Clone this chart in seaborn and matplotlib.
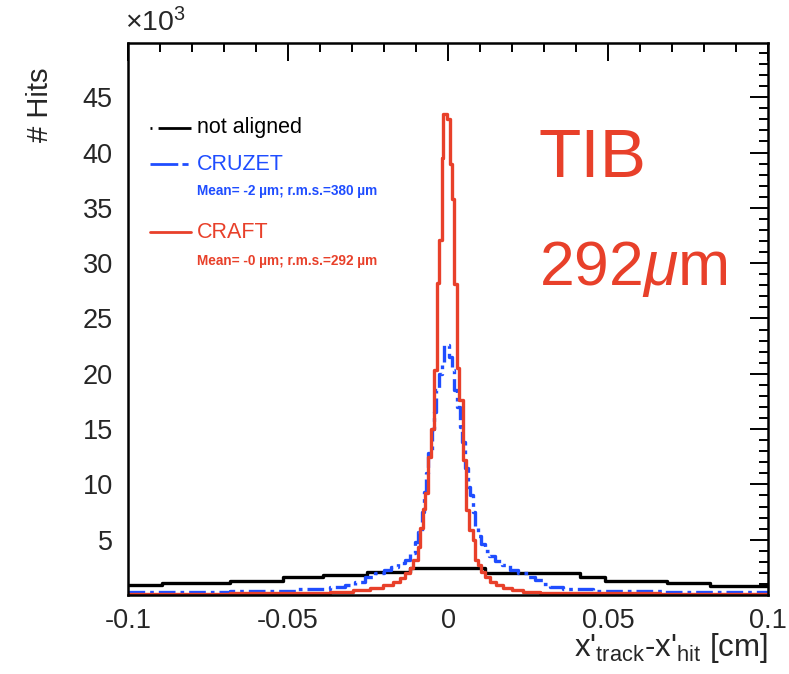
import numpy as np
import pandas as pd
import matplotlib
matplotlib.use("Agg")
import matplotlib.pyplot as plt
from matplotlib.lines import Line2D
from matplotlib.ticker import MultipleLocator, FixedLocator
import seaborn as sns

# ---- residual histograms (counts in units of 10^3 hits) ----
# bin edges in cm, contents per bin
not_aligned_edges = [-0.1, -0.0894, -0.0797, -0.0681, -0.0516, -0.0391, -0.0253,
                     -0.0119, 0.0116, 0.0413, 0.0491, 0.0684, 0.0819, 0.1]
not_aligned_hits = [0.9, 1.1, 1.05, 1.3, 1.6, 1.85, 2.1, 2.4, 1.95, 1.6, 1.26, 1.05, 0.85]

cruzet_edges = [-0.1, -0.0681, -0.0472, -0.0369, -0.0322, -0.0291, -0.0259, -0.0228,
                -0.0200, -0.0178, -0.0156, -0.0134, -0.0119, -0.0103, -0.0093, -0.0082,
                -0.0075, -0.0069, -0.0062, -0.0051, -0.0044, -0.0036, -0.0027, -0.0020,
                -0.0012, 0.0004, 0.0013, 0.0020, 0.0028, 0.0038, 0.0045, 0.0053,
                0.0061, 0.0069, 0.0078, 0.0084, 0.0094, 0.0103, 0.0116, 0.0128,
                0.0147, 0.0169, 0.0194, 0.0219, 0.0250, 0.0272, 0.0297, 0.0319,
                0.0359, 0.0453, 0.0672, 0.1]
cruzet_hits = [0.3, 0.4, 0.55, 0.7, 0.9, 1.2, 1.6, 2.0, 2.3, 2.5, 2.9, 3.2, 3.8, 4.8,
               5.7, 7.5, 9.3, 11.0, 12.8, 15.0, 16.5, 18.5, 20.0, 21.0, 22.6, 21.5,
               20.3, 18.5, 17.0, 15.2, 13.8, 11.5, 9.8, 9.0, 7.5, 6.2, 5.3, 4.6, 4.0,
               3.5, 3.1, 2.7, 2.3, 2.0, 1.6, 1.35, 1.0, 0.75, 0.55, 0.4, 0.3]

craft_edges = [-0.1, -0.0681, -0.0369, -0.0297, -0.0244, -0.0203, -0.0172, -0.0150,
               -0.0134, -0.0119, -0.0108, -0.0095, -0.0088, -0.0079, -0.0072, -0.0063,
               -0.0053, -0.0044, -0.0035, -0.0028, -0.0020, -0.0015, -0.0004, 0.0006,
               0.0012, 0.0019, 0.0027, 0.0035, 0.0046, 0.0055, 0.0067, 0.0077,
               0.0084, 0.0093, 0.0102, 0.0116, 0.0131, 0.0150, 0.0172, 0.0200,
               0.0234, 0.0288, 0.0350, 0.0663, 0.1]
craft_hits = [0.12, 0.18, 0.3, 0.45, 0.6, 0.9, 1.2, 1.5, 2.0, 2.4, 3.2, 4.3, 6.1, 7.8,
              9.2, 12.5, 15.0, 20.3, 28.2, 32.1, 39.5, 43.5, 43.0, 39.0, 35.8, 28.1,
              20.5, 17.6, 12.2, 7.7, 5.9, 5.0, 3.2, 2.7, 2.1, 1.65, 1.2, 0.9, 0.6,
              0.45, 0.3, 0.2, 0.15, 0.1]

series_names = ["not aligned", "CRUZET", "CRAFT"]
series_stats = ["", "Mean= -2 µm; r.m.s.=380 µm", "Mean= -0 µm; r.m.s.=292 µm"]
x_ticks = [-0.1, -0.05, 0, 0.05, 0.1]
x_tick_labels = ["-0.1", "-0.05", "0", "0.05", "0.1"]
y_ticks = [5, 10, 15, 20, 25, 30, 35, 40, 45]

RED = "#e8402a"
BLUE = "#1f4dff"
BLACK = "#000000"

sns.set_style("white")
plt.rcParams["font.family"] = ["Liberation Sans", "DejaVu Sans"]
plt.rcParams["mathtext.fontset"] = "custom"
plt.rcParams["mathtext.rm"] = "Liberation Sans"
plt.rcParams["mathtext.it"] = "Liberation Sans:italic"

fig = plt.figure(figsize=(7.89, 6.74), dpi=100)
ax = fig.add_axes([128 / 789, 1 - 595 / 674, 640 / 789, 552 / 674])


def frame(edges, hits, name):
    e = np.asarray(edges)
    centers = 0.5 * (e[:-1] + e[1:])
    return pd.DataFrame({"x": centers, "w": hits, "series": name})


styles = {
    "not aligned": dict(color=BLACK, linestyle="-"),
    "CRUZET": dict(color=BLUE, linestyle=(0, (5, 1.5, 1.1, 1.5))),
    "CRAFT": dict(color=RED, linestyle="-"),
}
legend_dashes = {
    "not aligned": (0, (0.7, 2.2, 30)),
    "CRUZET": (0, (10, 1.5, 2.2, 1.5, 1.5, 1.5)),
    "CRAFT": "-",
}
hist_data = [(not_aligned_edges, not_aligned_hits),
             (cruzet_edges, cruzet_hits),
             (craft_edges, craft_hits)]

for name, (edges, hits) in zip(series_names, hist_data):
    df = frame(edges, hits, name)
    sns.histplot(data=df, x="x", weights="w", bins=edges, stat="count",
                 element="step", fill=False, linewidth=2.4, ax=ax,
                 **styles[name])

ax.set_xlim(-0.1, 0.1)
ax.set_ylim(0, 49.9)
ax.set_xlabel("")
ax.set_ylabel("")

ax.xaxis.set_major_locator(FixedLocator(x_ticks))
ax.set_xticklabels(x_tick_labels)
ax.xaxis.set_minor_locator(MultipleLocator(0.01))
ax.yaxis.set_major_locator(FixedLocator(y_ticks))
ax.yaxis.set_minor_locator(MultipleLocator(1))

ax.tick_params(which="both", direction="in", top=True, right=True, width=1.4,
               color="black")
ax.tick_params(which="major", length=13, labelsize=19.5)
ax.tick_params(which="minor", length=6.5)
ax.tick_params(axis="x", which="major", pad=9)
ax.tick_params(axis="y", which="major", pad=11)
for s in ax.spines.values():
    s.set_linewidth(1.8)
    s.set_color("black")


# legend block placed in axes coordinates
def ax_x(px):
    return (px - 128) / 640


def ax_y(py):
    return (595 - py) / 552


line_rows = {"not aligned": 128, "CRUZET": 164, "CRAFT": 232}
stat_rows = {"CRUZET": 191, "CRAFT": 261}
colors = {"not aligned": BLACK, "CRUZET": BLUE, "CRAFT": RED}
for name, stat in zip(series_names, series_stats):
    yy = ax_y(line_rows[name])
    ax.add_line(Line2D([ax_x(150), ax_x(191)], [yy, yy], transform=ax.transAxes,
                       linewidth=2.0, color=colors[name],
                       linestyle=legend_dashes[name]))
    ax.text(ax_x(197), yy, name, transform=ax.transAxes, fontsize=15.5,
            color=colors[name], ha="left", va="center")
    if stat:
        ax.text(ax_x(197), ax_y(stat_rows[name]), stat, transform=ax.transAxes,
                fontsize=9.8, fontweight="bold", color=colors[name],
                ha="left", va="center")

ax.text(ax_x(538), ax_y(177), "TIB", transform=ax.transAxes, fontsize=50,
        color=RED, ha="left", va="baseline")
ax.text(ax_x(539), ax_y(285), r"292$\mu$m", transform=ax.transAxes, fontsize=45,
        color=RED, ha="left", va="baseline")

ax.text(-0.005, 1.01, r"×10$^{3}$", transform=ax.transAxes, fontsize=20.5,
        ha="left", va="bottom")
fig.text(40 / 789, 1 - 68 / 674, "# Hits", rotation=90, fontsize=21,
         ha="center", va="top")
fig.text(768 / 789, 1 - 656 / 674,
         r"x'$_{\mathrm{track}}$-x'$_{\mathrm{hit}}$ [cm]", fontsize=22.5,
         ha="right", va="baseline")

fig.savefig("out.png", dpi=100)
